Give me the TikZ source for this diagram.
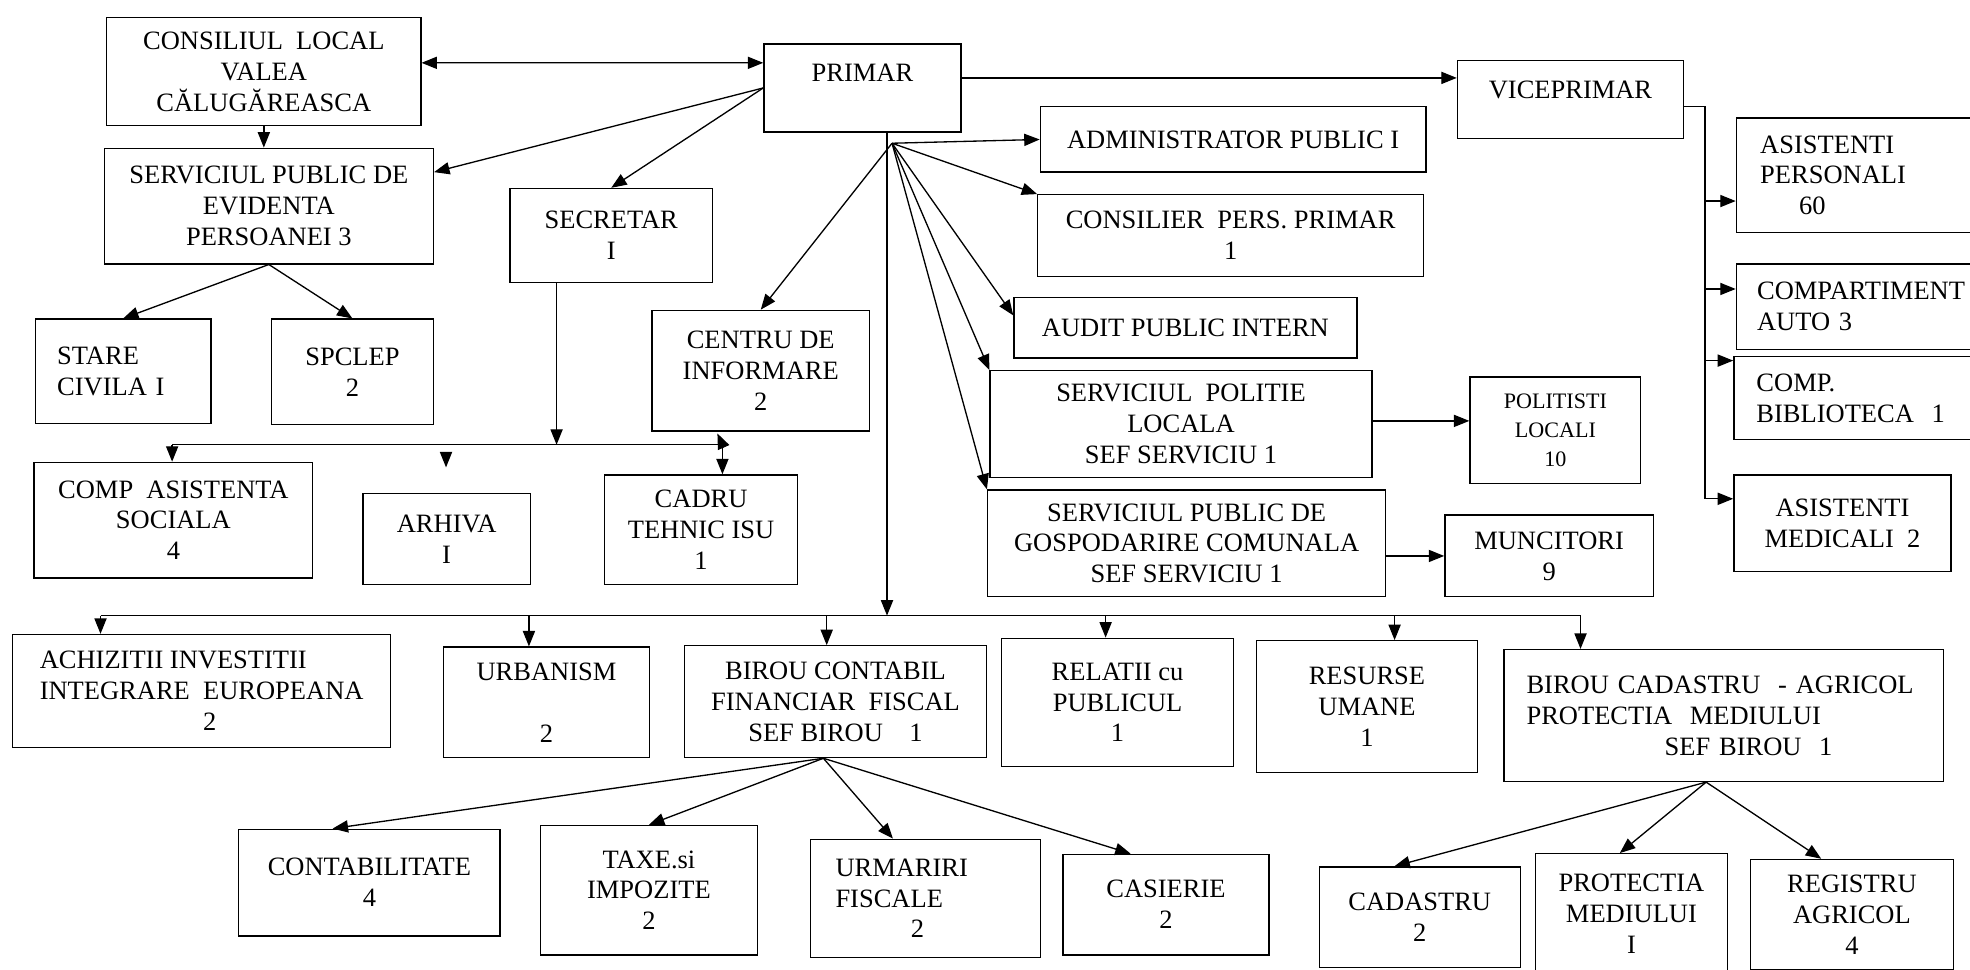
\documentclass[tikz,border=0pt]{standalone}
\usepackage{fontspec}
\setmainfont{Liberation Serif}
\usepackage{tikz}
\usetikzlibrary{calc,arrows.meta,positioning}

\tikzset{
	box/.style={draw, line width=0.6pt, align=center, inner sep=1pt,
		font=\fontsize{12}{14}\selectfont},
	arr/.style={line width=0.6pt, -{Triangle[length=7pt,width=5.5pt]}},
	arrtwo/.style={line width=0.6pt, {Triangle[length=7pt,width=5.5pt]}-{Triangle[length=7pt,width=5.5pt]}},
	bus/.style={line width=0.6pt}
}

\begin{document}
\begin{tikzpicture}[x=0.02cm,y=-0.02cm]
	\useasboundingbox (0,0) rectangle (1568,772);
	\clip (0,0) rectangle (1568,772);
	% top row
	\node[box, minimum width=5cm, minimum height=1.72cm] (consiliu) at (210,57) {CONSILIUL~~LOCAL\\ VALEA\\ CĂLUGĂREASCA};
	\node[box, minimum width=3.14cm, minimum height=1.4cm] (primar) at (686.5,70) {PRIMAR\\ ~};
	\node[box, minimum width=3.6cm, minimum height=1.24cm] (vice) at (1250,79) {VICEPRIMAR\\[-5pt] ~};
	\node[box, minimum width=5.24cm, minimum height=1.84cm] (evidenta) at (214,164) {SERVICIUL PUBLIC DE\\ EVIDENTA\\ PERSOANEI 3};
	\node[box, minimum width=3.22cm, minimum height=1.5cm] (secretar) at (486.5,187.5) {SECRETAR\\ I};
	\node[box, minimum width=6.14cm, minimum height=1.04cm] (admin) at (981.5,111) {ADMINISTRATOR PUBLIC I};
	\node[box, minimum width=6.14cm, minimum height=1.3cm] (consilier) at (979.5,187.5) {CONSILIER~~PERS. PRIMAR\\ 1};
	\node[box, minimum width=5.46cm, minimum height=0.96cm] (audit) at (943.5,261) {AUDIT PUBLIC INTERN};
	% viceprimar side
	\node[box, minimum width=4.36cm, minimum height=1.82cm, text width=3.6cm, align=left] (asistpers) at (1491,139.5) {ASISTENTI\\ PERSONALI\\ \hspace*{0.62cm}60};
	\node[box, minimum width=4.36cm, minimum height=1.36cm, text width=3.7cm, align=left] (compauto) at (1491,244) {COMPARTIMENT\\ AUTO 3};
	\node[box, minimum width=4.4cm, minimum height=1.32cm, text width=3.68cm, align=left] (compbib) at (1490,317) {COMP.\\ BIBLIOTECA~~1};
	\node[box, minimum width=3.46cm, minimum height=1.54cm] (asistmed) at (1466.5,416.5) {ASISTENTI\\ MEDICALI~~2};
	% second row
	\node[box, minimum width=2.8cm, minimum height=1.66cm, text width=2.1cm, align=left] (stare) at (98,295.5) {STARE\\ CIVILA I};
	\node[box, minimum width=2.58cm, minimum height=1.68cm] (spclep) at (280.5,296) {SPCLEP\\ 2};
	\node[box, minimum width=3.46cm, minimum height=1.92cm] (centru) at (605.5,295) {CENTRU DE\\ INFORMARE\\ 2};
	\node[box, minimum width=6.08cm, minimum height=1.7cm] (politie) at (940,337.5) {SERVICIUL~~POLITIE\\ LOCALA\\ SEF SERVICIU 1};
	\node[box, minimum width=2.72cm, minimum height=1.7cm, font=\fontsize{10}{13}\selectfont] (politisti) at (1238,342.5) {POLITISTI\\ LOCALI\\ 10};
	\node[box, minimum width=6.34cm, minimum height=1.7cm] (gospod) at (944.5,432.5) {SERVICIUL PUBLIC DE\\ GOSPODARIRE COMUNALA\\ SEF SERVICIU 1};
	\node[box, minimum width=3.32cm, minimum height=1.3cm] (muncitori) at (1233,442.5) {MUNCITORI\\ 9};
	% under secretar
	\node[box, minimum width=4.44cm, minimum height=1.84cm] (asistsoc) at (138,414) {COMP~~ASISTENTA\\ SOCIALA\\ 4};
	\node[box, minimum width=2.66cm, minimum height=1.44cm] (arhiva) at (355.5,429) {ARHIVA\\ I};
	\node[box, minimum width=3.08cm, minimum height=1.74cm] (cadru) at (558,421.5) {CADRU\\ TEHNIC ISU\\ 1};
	% departments
	\node[box, minimum width=6.02cm, minimum height=1.8cm, align=left] (achiz) at (160.5,550) {ACHIZITII INVESTITII\\ INTEGRARE~~EUROPEANA\\ \hspace*{2.6cm}2};
	\node[box, minimum width=3.28cm, minimum height=1.76cm] (urbanism) at (435,559) {URBANISM\\ ~\\ 2};
	\node[box, minimum width=4.8cm, minimum height=1.78cm] (birouc) at (665,558.5) {BIROU CONTABIL\\ FINANCIAR~~FISCAL\\ SEF BIROU~~~~1};
	\node[box, minimum width=3.7cm, minimum height=2.04cm] (relatii) at (889.5,559) {RELATII cu\\ PUBLICUL\\ 1};
	\node[box, minimum width=3.52cm, minimum height=2.1cm] (resurse) at (1088,562.5) {RESURSE\\ UMANE\\ 1};
	\node[box, minimum width=7cm, minimum height=2.1cm, text width=6.28cm, align=left] (cadastrub) at (1372,569.5) {BIROU CADASTRU~~- AGRICOL\\ PROTECTIA~~MEDIULUI\\ \hspace*{2.2cm}SEF BIROU~~1};
	% bottom row
	\node[box, minimum width=4.16cm, minimum height=1.7cm] (contab) at (294,702.5) {CONTABILITATE\\ 4};
	\node[box, minimum width=3.46cm, minimum height=2.06cm] (taxe) at (516.5,708.5) {TAXE.si\\ IMPOZITE\\ 2};
	\node[box, minimum width=3.66cm, minimum height=1.88cm, text width=2.86cm, align=left] (urmariri) at (736.5,715) {URMARIRI\\ FISCALE\\ \hspace*{1.2cm}2};
	\node[box, minimum width=3.28cm, minimum height=1.6cm] (casierie) at (928,720) {CASIERIE\\ 2};
	\node[box, minimum width=3.2cm, minimum height=1.6cm] (cadastru) at (1130,730) {CADASTRU\\ 2};
	\node[box, minimum width=3.06cm, minimum height=1.9cm] (protectia) at (1298.5,727) {PROTECTIA\\ MEDIULUI\\ I};
	\node[box, minimum width=3.24cm, minimum height=1.76cm] (registru) at (1474,728) {REGISTRU\\ AGRICOL\\ 4};

	% helper points
	\coordinate (pf) at (710,114);
	\coordinate (pv) at (706,490);
	\coordinate (b1l) at (137,354);
	\coordinate (b1r) at (575,354);
	\coordinate (b1up) at (571,345);
	\coordinate (sv) at (443,354);
	\coordinate (arh) at (355,372);
	\coordinate (b2l) at (80,490);
	\coordinate (b2r) at (1258,490);
	\coordinate (vr) at (1357,85);
	\coordinate (vb) at (1357,397);

	% primar links
	\draw[arrtwo] ([yshift=0.14cm]consiliu.east) -- ([yshift=0.4cm]primar.west);
	\draw[arr] (consiliu.south) -- (consiliu.south |- evidenta.north);
	\draw[arr] (primar.west) -- ([yshift=0.54cm]evidenta.east);
	\draw[arr] (primar.west) -- (secretar.north);
	\draw[arr] ([yshift=0.16cm]primar.east) -- ([yshift=0.16cm]primar.east -| vice.west);
	\foreach \t in {admin.west, consilier.north west, politie.north west, gospod.north west, centru.north}
	\draw[arr] (pf) -- (\t);
	\draw[arr] (pf) -- ([yshift=0.2cm]audit.west);
	\draw[arr] (pv |- primar.south) -- (pv);

	% secretar
	\draw[arr] (secretar.south -| sv) -- (sv);
	\draw[bus] (b1l) -- (b1r);
	\draw[arr] (b1l) -- (b1l |- asistsoc.north);
	\draw[arr] (b1r) -- (b1r |- cadru.north);
	\draw[arr] (b1r) -- (b1up);
	\draw[arr] ([yshift=0.22cm]arh) -- (arh);

	% evidenta
	\draw[arr] (evidenta.south) -- (stare.north);
	\draw[arr] (evidenta.south) -- (spclep.north);

	% departments bus
	\draw[bus] (b2l) -- (b2r);
	\foreach \n/\x in {achiz/80,urbanism/421,birouc/658,relatii/880,resurse/1110,cadastrub/1258}
	{
		\coordinate (t) at (\x,490);
		\draw[arr] (t) -- (t |- \n.north);
	}

	% viceprimar
	\draw[bus] (vice.east |- vr) -- (vr) -- (vb);
	\foreach \n/\y in {asistpers/160,compauto/230,compbib/287,asistmed/397}
	{
		\coordinate (t) at (1357,\y);
		\draw[arr] (t) -- (t -| \n.west);
	}

	\draw[arr] ([yshift=0.05cm]politie.east) -- ([yshift=0.05cm]politie.east -| politisti.west);
	\draw[arr] (muncitori.west -| gospod.east) -- (muncitori.west);

	% birou contabil
	\coordinate (bcs) at ($(birouc.south west)!0.46!(birouc.south east)$);
	\draw[arr] (bcs) -- ($(contab.north west)!0.36!(contab.north east)$);
	\draw[arr] (bcs) -- (taxe.north);
	\draw[arr] (bcs) -- ($(urmariri.north west)!0.36!(urmariri.north east)$);
	\draw[arr] (bcs) -- ($(casierie.north west)!0.33!(casierie.north east)$);

	% birou cadastru
	\coordinate (bas) at ($(cadastrub.south west)!0.46!(cadastrub.south east)$);
	\draw[arr] (bas) -- ($(cadastru.north west)!0.375!(cadastru.north east)$);
	\draw[arr] (bas) -- ($(protectia.north west)!0.44!(protectia.north east)$);
	\draw[arr] (bas) -- ($(registru.north west)!0.35!(registru.north east)$);
\end{tikzpicture}
\end{document}
